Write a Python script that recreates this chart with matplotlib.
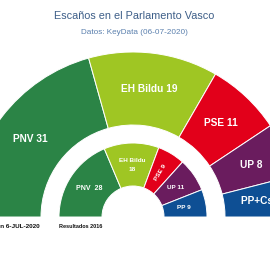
import numpy as np
import matplotlib
matplotlib.use("Agg")
import matplotlib.pyplot as plt
from matplotlib.patches import Wedge

# seats, estimate 6-JUL-2020 (outer ring) and 2016 results (inner ring)
parties_2020 = ["PNV", "EH Bildu", "PSE", "UP", "PP+Cs"]
seats_2020 = [31, 19, 11, 8, 6]
parties_2016 = ["PNV", "EH Bildu", "PSE", "UP", "PP"]
seats_2016 = [28, 18, 9, 11, 9]
colors = ["#2b8446", "#9fc623", "#e2001a", "#6a1c5e", "#0e4f94"]

plt.rcParams['font.family'] = ['Liberation Sans', 'DejaVu Sans']

fig = plt.figure(figsize=(2.7, 2.7), dpi=100)
ax = fig.add_axes([0, 0, 1, 1])
ax.set_xlim(-133, 137)
ax.set_ylim(-53, 217)
ax.set_aspect('equal')
ax.axis('off')


def half_ring(vals, r_out, width):
    total = float(sum(vals))
    angles = []
    start = 180.0
    for i, v in enumerate(vals):
        span = 180.0 * v / total
        w = Wedge((0, 0), r_out, start - span, start, width=width,
                  facecolor=colors[i], edgecolor='white', linewidth=0.7)
        ax.add_patch(w)
        angles.append(start - span / 2)
        start -= span
    return angles


# outer ring
mids = half_ring(seats_2020, 165, 73)
r_lab = 129
for name, s, a in zip(parties_2020, seats_2020, mids):
    t = np.radians(a)
    ax.text(r_lab * np.cos(t), r_lab * np.sin(t), f"{name} {s}", color='white',
            fontsize=7.3, fontweight='bold', ha='center', va='center')

# inner ring
mids2 = half_ring(seats_2016, 74, 43)
r_lab2 = 52
for i, (name, s, a) in enumerate(zip(parties_2016, seats_2016, mids2)):
    t = np.radians(a)
    x, y = r_lab2 * np.cos(t), r_lab2 * np.sin(t)
    if name == "EH Bildu":
        ax.text(x, y, f"{name}\n\n{s}", color='white', fontsize=4.6,
                fontweight='bold', ha='center', va='center', linespacing=0.8)
    elif name == "PSE":
        ax.text(x, y, f"{name} {s}", color='white', fontsize=4.6,
                fontweight='bold', ha='center', va='center', rotation=a)
    elif name == "PNV":
        ax.text(x, y, f"{name}  {s}", color='white', fontsize=5,
                fontweight='bold', ha='center', va='center')
    else:
        ax.text(x, y, f"{name} {s}", color='white', fontsize=4.6,
                fontweight='bold', ha='center', va='center')

ax.text(-128, -10, "Estimación 6-JUL-2020", fontsize=4.6, fontweight='bold',
        ha='center', va='center', color='#111111')
ax.text(-52, -10, "Resultados 2016", fontsize=4.0, fontweight='bold',
        ha='center', va='center', color='#111111')

fig.text(0.497, 1 - 16 / 270, "Escaños en el Parlamento Vasco", fontsize=7.8,
         color='#3d5e88', ha='center', va='center')
fig.text(0.497, 1 - 33 / 270, "Datos: KeyData (06-07-2020)", fontsize=5.9,
         color='#5b80ae', ha='center', va='center')

fig.savefig("out.png", dpi=100)
